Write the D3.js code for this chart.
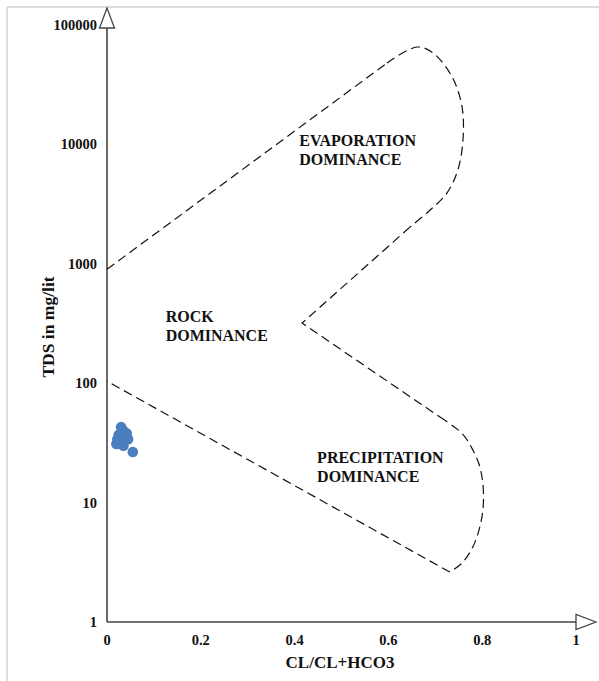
<!DOCTYPE html>
<html>
<head>
<meta charset="utf-8">
<script src="https://cdn.jsdelivr.net/npm/d3@7"></script>
<style>
html,body{margin:0;padding:0;background:#fff;}
svg{display:block;}
text{font-family:"Liberation Serif","Times New Roman",serif;font-weight:bold;fill:#111;}
</style>
</head>
<body>
<script>
// ---- data ----
const xTicks = [0, 0.2, 0.4, 0.6, 0.8, 1];
const xTickLabels = ["0", "0.2", "0.4", "0.6", "0.8", "1"];
const yTicks = [1, 10, 100, 1000, 10000, 100000];
const yTickLabels = ["1", "10", "100", "1000", "10000", "100000"];

// sample points: [Cl/(Cl+HCO3), TDS mg/l]
const sampleRatio = [0.030, 0.035, 0.025, 0.040, 0.030, 0.045, 0.020, 0.035, 0.055, 0.042, 0.028, 0.022];
const sampleTDS   = [43,    40,    37,    36,    33,    34,    31,    30,    26.5,  38,    35,    34];

// Gibbs boundary segments
const upperLine   = [[0, 900], [0.597, 48000]];
const upperCurve  = [[0.597, 48000], [0.661, 65400], [0.695, 58300], [0.736, 36700], [0.757, 20600],
                     [0.759, 10900], [0.748, 6100], [0.725, 3920], [0.689, 2820], [0.646, 2030]];
const notchLines  = [[0.646, 2030], [0.416, 319], [0.710, 52]];
const lowerCurve  = [[0.710, 52], [0.757, 38], [0.780, 27.6], [0.795, 19.9], [0.802, 13.5], [0.802, 9.2],
                     [0.795, 6.25], [0.780, 4.25], [0.757, 3.12], [0.731, 2.62]];
const lowerLine   = [[0.731, 2.62], [0, 104]];

const regionLabels = [
  {lines: ["EVAPORATION", "DOMINANCE"], x: 0.41, y: 9700},
  {lines: ["ROCK", "DOMINANCE"], x: 0.125, y: 326},
  {lines: ["PRECIPITATION", "DOMINANCE"], x: 0.448, y: 21.5}
];

// ---- chart ----
const W = 599, H = 681;
const svg = d3.select("body").append("svg").attr("width", W).attr("height", H);

// light frame
svg.append("line").attr("x1", 7).attr("y1", 7).attr("x2", W).attr("y2", 7).attr("stroke", "#dcdcdc").attr("stroke-width", 2);
svg.append("line").attr("x1", 7).attr("y1", 7).attr("x2", 7).attr("y2", H).attr("stroke", "#dcdcdc").attr("stroke-width", 2);

const x = d3.scaleLinear().domain([0, 1]).range([107, 576]);
const y = d3.scaleLog().domain([1, 100000]).range([622, 25]);

// axes lines
const axisColor = "#444";
svg.append("line").attr("x1", x(0)).attr("y1", y(1)).attr("x2", 578).attr("y2", y(1)).attr("stroke", axisColor).attr("stroke-width", 1.6);
svg.append("line").attr("x1", x(0)).attr("y1", y(1)).attr("x2", x(0)).attr("y2", 27).attr("stroke", axisColor).attr("stroke-width", 1.6);

// arrows (open triangles)
svg.append("path")
  .attr("d", `M${x(0)},8 L${x(0) - 7.5},28 L${x(0) + 7.5},28 Z`)
  .attr("fill", "#fff").attr("stroke", axisColor).attr("stroke-width", 1.3);
svg.append("path")
  .attr("d", `M596,${y(1)} L576,${y(1) - 7.5} L576,${y(1) + 7.5} Z`)
  .attr("fill", "#fff").attr("stroke", axisColor).attr("stroke-width", 1.3);

// tick labels
svg.selectAll(".ytl").data(yTicks).enter().append("text")
  .attr("x", 97).attr("y", d => y(d)).attr("dy", "0.35em")
  .attr("text-anchor", "end").attr("font-size", 14.5)
  .text((d, i) => yTickLabels[i]);
svg.selectAll(".xtl").data(xTicks).enter().append("text")
  .attr("x", d => x(d)).attr("y", 645)
  .attr("text-anchor", "middle").attr("font-size", 14.5)
  .text((d, i) => xTickLabels[i]);

// axis titles
svg.append("text").attr("x", 340).attr("y", 668).attr("text-anchor", "middle").attr("font-size", 17)
  .text("CL/CL+HCO3");
svg.append("text").attr("transform", "translate(54,327) rotate(-90)").attr("text-anchor", "middle").attr("font-size", 17.5)
  .text("TDS in mg/lit");

// boundary
const straight = d3.line().x(d => x(d[0])).y(d => y(d[1]));
const curved = d3.line().x(d => x(d[0])).y(d => y(d[1])).curve(d3.curveCatmullRom.alpha(0.5));
const dash = "9,5";
[upperLine, notchLines, lowerLine].forEach(seg => {
  svg.append("path").attr("d", straight(seg)).attr("fill", "none")
    .attr("stroke", "#111").attr("stroke-width", 1.2).attr("stroke-dasharray", dash);
});
[upperCurve, lowerCurve].forEach(seg => {
  svg.append("path").attr("d", curved(seg)).attr("fill", "none")
    .attr("stroke", "#111").attr("stroke-width", 1.2).attr("stroke-dasharray", dash);
});

// region labels
regionLabels.forEach(l => {
  const t = svg.append("text").attr("x", x(l.x)).attr("y", y(l.y)).attr("font-size", 16);
  l.lines.forEach((s, i) => {
    t.append("tspan").attr("x", x(l.x)).attr("dy", i === 0 ? 0 : 19.5).text(s);
  });
});

// points
svg.selectAll(".pt").data(sampleRatio).enter().append("circle")
  .attr("cx", d => x(d)).attr("cy", (d, i) => y(sampleTDS[i]))
  .attr("r", 5.3).attr("fill", "#4a7ebf");
</script>
</body>
</html>
